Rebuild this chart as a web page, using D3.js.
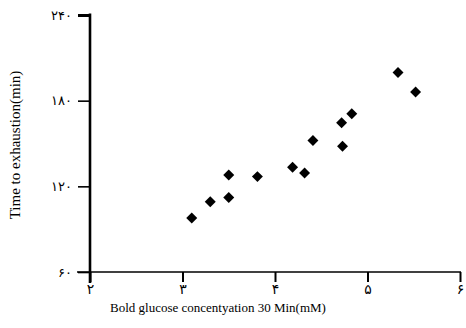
<!DOCTYPE html>
<html>
<head>
<meta charset="utf-8">
<script src="https://cdn.jsdelivr.net/npm/d3@7"></script>
<style>
  body { margin: 0; background: #fff; }
  svg { display: block; }
</style>
</head>
<body>
<svg id="canvas" width="466" height="328"></svg>
<script>
// glucose (mM) vs time to exhaustion (min)
let glucose = [3.10, 3.30, 3.50, 3.50, 3.81, 4.19, 4.32, 4.41, 4.72, 4.73, 4.83, 5.33, 5.52];
let timeExh = [97.8, 109.2, 112.2, 128.0, 126.8, 133.3, 129.4, 152.1, 164.6, 148.1, 170.9, 199.7, 186.1];
let xTicks = [2, 3, 4, 5, 6];
let yTicks = [60, 120, 180, 240];

let faDigits = '۰۱۲۳۴۵۶۷۸۹';
let toFa = (n) => String(n).replace(/[0-9]/g, (d) => faDigits[+d]);

let canvas = d3.select('#canvas');

let x = d3.scaleLinear().domain([2, 6]).range([90, 460]);
let y = d3.scaleLinear().domain([60, 240]).range([272, 15]);

// x axis
let xAxis = canvas.append('g')
  .attr('transform', 'translate(0,272)')
  .call(d3.axisBottom(x).tickValues(xTicks).tickFormat(toFa).tickSize(10).tickPadding(2));
xAxis.select('.domain').remove();
xAxis.append('line')
  .attr('x1', 77).attr('x2', x(6) + 1)
  .attr('stroke', '#000').attr('stroke-width', 1.6);
xAxis.selectAll('.tick line').attr('stroke-width', 2);
xAxis.selectAll('.tick text')
  .attr('font-family', 'DejaVu Sans').attr('font-size', 14).attr('fill', '#000');

// y axis
let yAxis = canvas.append('g')
  .attr('transform', 'translate(90,0)')
  .call(d3.axisLeft(y).tickValues(yTicks).tickFormat(toFa).tickSize(12).tickPadding(6));
yAxis.select('.domain').remove();
yAxis.append('line')
  .attr('y1', y(240) - 1.5).attr('y2', 283)
  .attr('stroke', '#000').attr('stroke-width', 2.6);
yAxis.selectAll('.tick line')
  .attr('stroke-width', (d) => d === 240 ? 3 : 1.6)
  .attr('x1', 0);
yAxis.selectAll('.tick text')
  .attr('font-family', 'DejaVu Sans').attr('font-size', 13).attr('fill', '#000');

// points
let diamond = d3.symbol().type(d3.symbolSquare).size(60);
canvas.selectAll('path.pt')
  .data(glucose)
  .enter()
  .append('path')
  .attr('class', 'pt')
  .attr('d', diamond)
  .attr('transform', (d, i) => 'translate(' + x(d) + ',' + y(timeExh[i]) + ') rotate(45)')
  .attr('fill', '#000');

// axis titles
canvas.append('text')
  .attr('x', 218).attr('y', 312)
  .attr('text-anchor', 'middle')
  .attr('font-family', 'Liberation Serif')
  .attr('font-size', 13)
  .text('Bold glucose concentyation 30 Min(mM)');

canvas.append('text')
  .attr('transform', 'translate(20,145) rotate(-90)')
  .attr('text-anchor', 'middle')
  .attr('font-family', 'Liberation Serif')
  .attr('font-size', 15)
  .text('Time to exhaustion(min)');
</script>
</body>
</html>
